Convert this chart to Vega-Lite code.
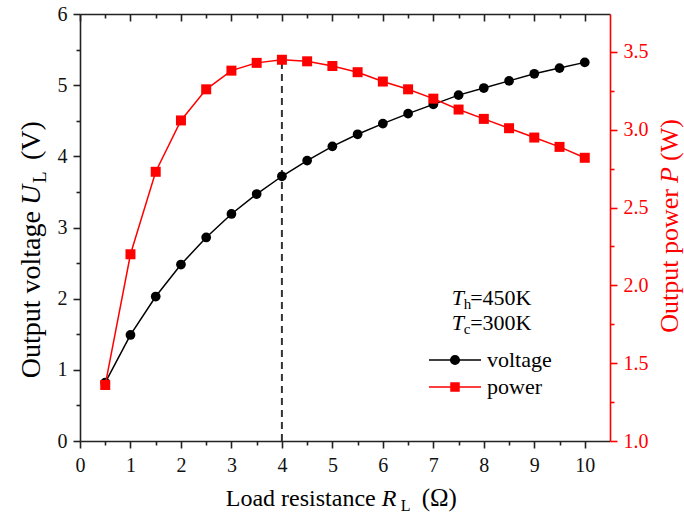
{
  "$schema": "https://vega.github.io/schema/vega-lite/v6.json",
  "width": 530,
  "height": 427,
  "autosize": {"type": "none"},
  "padding": {"left": 80, "top": 14, "right": 74, "bottom": 77},
  "background": "white",
  "config": {
    "font": "Liberation Serif, Times New Roman, serif",
    "view": {"stroke": null},
    "axis": {
      "labelFont": "Liberation Serif, Times New Roman, serif",
      "labelFontSize": 20,
      "labelColor": "#111",
      "domainWidth": 1.6,
      "domainColor": "#222",
      "tickColor": "#222",
      "tickWidth": 1.6,
      "grid": false,
      "title": null,
      "labelOverlap": false,
      "labelFlush": false
    },
    "legend": {"labelFont": "Liberation Serif, Times New Roman, serif"},
    "text": {"font": "Liberation Serif, Times New Roman, serif"}
  },
  "datasets": {
    "main": [
      {"R": 0.5, "U": 0.82, "P": 1.36},
      {"R": 1.0, "U": 1.49, "P": 2.20},
      {"R": 1.5, "U": 2.03, "P": 2.73},
      {"R": 2.0, "U": 2.48, "P": 3.06},
      {"R": 2.5, "U": 2.86, "P": 3.26},
      {"R": 3.0, "U": 3.19, "P": 3.38},
      {"R": 3.5, "U": 3.47, "P": 3.43},
      {"R": 4.0, "U": 3.72, "P": 3.45},
      {"R": 4.5, "U": 3.94, "P": 3.44},
      {"R": 5.0, "U": 4.14, "P": 3.41},
      {"R": 5.5, "U": 4.31, "P": 3.37},
      {"R": 6.0, "U": 4.46, "P": 3.31},
      {"R": 6.5, "U": 4.60, "P": 3.26},
      {"R": 7.0, "U": 4.73, "P": 3.20},
      {"R": 7.5, "U": 4.86, "P": 3.13},
      {"R": 8.0, "U": 4.96, "P": 3.07},
      {"R": 8.5, "U": 5.06, "P": 3.01},
      {"R": 9.0, "U": 5.16, "P": 2.95},
      {"R": 9.5, "U": 5.24, "P": 2.89},
      {"R": 10.0, "U": 5.32, "P": 2.82}
    ]
  },
  "layer": [
    {
      "encoding": {
        "x": {
          "field": "R", "type": "quantitative",
          "scale": {"domain": [0, 10.5], "nice": false, "zero": false},
          "axis": {
            "orient": "bottom",
            "values": [0, 0.5, 1, 1.5, 2, 2.5, 3, 3.5, 4, 4.5, 5, 5.5, 6, 6.5, 7, 7.5, 8, 8.5, 9, 9.5, 10],
            "labelExpr": "datum.value % 1 === 0 ? format(datum.value, 'd') : ''",
            "labelFont": "Liberation Serif, Times New Roman, serif",
            "tickSize": {"condition": {"test": "datum.value % 1 !== 0", "value": 4}, "value": 7},
            "labelPadding": 7
          }
        },
        "y": {
          "field": "U", "type": "quantitative",
          "scale": {"domain": [0, 6], "nice": false, "zero": false},
          "axis": {
            "orient": "left",
            "values": [0, 0.5, 1, 1.5, 2, 2.5, 3, 3.5, 4, 4.5, 5, 5.5, 6],
            "labelExpr": "datum.value % 1 === 0 ? format(datum.value, 'd') : ''",
            "labelFont": "Liberation Serif, Times New Roman, serif",
            "tickSize": {"condition": {"test": "datum.value % 1 !== 0", "value": 4}, "value": 7},
            "labelPadding": 6
          }
        }
      },
      "layer": [
        {
          "data": {"values": [{"R": 4, "U": 0, "U2": 5.353}]},
          "mark": {"type": "rule", "color": "#333", "strokeWidth": 2, "strokeDash": [7, 5]},
          "encoding": {"y2": {"field": "U2"}}
        },
        {
          "data": {"name": "main"},
          "mark": {"type": "line", "strokeWidth": 1.5},
          "encoding": {
            "color": {
              "datum": "voltage",
              "type": "nominal",
              "scale": {"domain": ["voltage", "power"], "range": ["black", "red"]},
              "legend": {
                "orient": "none",
                "legendX": 364,
                "legendY": 335,
                "title": null,
                "labelFont": "Liberation Serif, Times New Roman, serif",
                "labelFontSize": 22,
                "labelColor": "black",
                "labelOffset": 21,
                "rowPadding": 5,
                "symbolSize": 400,
                "symbolStrokeWidth": 1.5,
                "encode": {
                  "symbols": {
                    "update": {
                      "shape": {"signal": "datum.value === 'power' ? 'M-2.6,0H2.6M-0.4,-0.4H0.4V0.4H-0.4Z' : 'M-2.6,0H2.6M-0.43,0A0.43,0.43 0 1,1 0.43,0A0.43,0.43 0 1,1 -0.43,0Z'"},
                      "fill": {"signal": "datum.value === 'power' ? 'red' : 'black'"},
                      "stroke": {"signal": "datum.value === 'power' ? 'red' : 'black'"},
                      "strokeWidth": {"value": 1.5},
                      "opacity": {"value": 1},
                      "fillOpacity": {"value": 1},
                      "strokeOpacity": {"value": 1}
                    }
                  }
                }
              }
            }
          }
        },
        {
          "data": {"name": "main"},
          "mark": {"type": "point", "shape": "circle", "filled": true, "size": 95, "opacity": 1, "color": "black"}
        },
        {
          "data": {"values": [{"R": 7.364, "U": 1.911, "t": "T"}, {"R": 7.364, "U": 1.560, "t": "T"}]},
          "mark": {"type": "text", "fontSize": 22, "fontStyle": "italic", "align": "left", "baseline": "alphabetic", "color": "black"},
          "encoding": {"text": {"field": "t"}}
        },
        {
          "data": {"values": [{"R": 7.364, "U": 1.911, "t": "h"}, {"R": 7.364, "U": 1.560, "t": "c"}]},
          "mark": {"type": "text", "fontSize": 15, "align": "left", "baseline": "alphabetic", "dx": 12, "dy": 4, "color": "black"},
          "encoding": {"text": {"field": "t"}}
        },
        {
          "data": {"values": [{"R": 7.364, "U": 1.911, "t": "=450K"}, {"R": 7.364, "U": 1.560, "t": "=300K"}]},
          "mark": {"type": "text", "fontSize": 22, "align": "left", "baseline": "alphabetic", "dx": 18.5, "color": "black"},
          "encoding": {"text": {"field": "t"}}
        },
        {
          "data": {"values": [{"R": 5.977, "U": -0.913, "t": "Load resistance"}]},
          "mark": {"type": "text", "fontSize": 24, "align": "right", "baseline": "alphabetic", "dx": -6, "color": "black"},
          "encoding": {"text": {"field": "t"}}
        },
        {
          "data": {"values": [{"R": 5.977, "U": -0.913, "t": "R"}]},
          "mark": {"type": "text", "fontSize": 24, "fontStyle": "italic", "align": "left", "baseline": "alphabetic", "color": "black"},
          "encoding": {"text": {"field": "t"}}
        },
        {
          "data": {"values": [{"R": 5.977, "U": -0.913, "t": "L"}]},
          "mark": {"type": "text", "fontSize": 16, "align": "left", "baseline": "alphabetic", "dx": 19, "dy": 5, "color": "black"},
          "encoding": {"text": {"field": "t"}}
        },
        {
          "data": {"values": [{"R": 5.977, "U": -0.913, "t": "(Ω)"}]},
          "mark": {"type": "text", "fontSize": 25, "align": "left", "baseline": "alphabetic", "dx": 40, "color": "black"},
          "encoding": {"text": {"field": "t"}}
        },
        {
          "data": {"values": [{"R": -0.792, "U": 3.316, "t": "Output voltage"}]},
          "mark": {"type": "text", "fontSize": 28, "angle": 270, "align": "right", "baseline": "alphabetic", "dx": -6, "color": "black"},
          "encoding": {"text": {"field": "t"}}
        },
        {
          "data": {"values": [{"R": -0.792, "U": 3.316, "t": "U"}]},
          "mark": {"type": "text", "fontSize": 28, "angle": 270, "fontStyle": "italic", "align": "left", "baseline": "alphabetic", "color": "black"},
          "encoding": {"text": {"field": "t"}}
        },
        {
          "data": {"values": [{"R": -0.792, "U": 3.316, "t": "L"}]},
          "mark": {"type": "text", "fontSize": 19, "angle": 270, "align": "left", "baseline": "alphabetic", "dx": 22, "dy": 6, "color": "black"},
          "encoding": {"text": {"field": "t"}}
        },
        {
          "data": {"values": [{"R": -0.792, "U": 3.316, "t": "(V)"}]},
          "mark": {"type": "text", "fontSize": 28, "angle": 270, "align": "left", "baseline": "alphabetic", "dx": 45, "color": "black"},
          "encoding": {"text": {"field": "t"}}
        }
      ]
    },
    {
      "encoding": {
        "x": {
          "field": "R", "type": "quantitative",
          "scale": {"domain": [0, 10.5], "nice": false, "zero": false},
          "axis": {
            "orient": "top",
            "values": [0, 0.5, 1, 1.5, 2, 2.5, 3, 3.5, 4, 4.5, 5, 5.5, 6, 6.5, 7, 7.5, 8, 8.5, 9, 9.5, 10],
            "labels": false,
            "tickSize": {"condition": {"test": "datum.value % 1 !== 0", "value": -4}, "value": -7}
          }
        },
        "y": {
          "field": "P", "type": "quantitative",
          "scale": {"domain": [1.0, 3.744], "nice": false, "zero": false},
          "axis": {
            "orient": "right",
            "values": [1.0, 1.25, 1.5, 1.75, 2.0, 2.25, 2.5, 2.75, 3.0, 3.25, 3.5],
            "labelExpr": "(datum.value * 2) % 1 === 0 ? format(datum.value, '.1f') : ''",
            "labelFont": "Liberation Serif, Times New Roman, serif",
            "tickSize": {"condition": {"test": "(datum.value * 2) % 1 !== 0", "value": 4}, "value": 7},
            "domainColor": "red",
            "tickColor": "red",
            "labelColor": "red",
            "labelPadding": 6
          }
        }
      },
      "layer": [
        {
          "data": {"name": "main"},
          "mark": {"type": "line", "strokeWidth": 1.5},
          "encoding": {"color": {"datum": "power", "type": "nominal"}}
        },
        {
          "data": {"name": "main"},
          "mark": {"type": "point", "shape": "square", "filled": true, "size": 100, "opacity": 1, "color": "red"}
        },
        {
          "data": {"values": [{"R": 11.847, "P": 2.658, "t": "Output power"}]},
          "mark": {"type": "text", "fontSize": 26, "angle": 270, "align": "right", "baseline": "alphabetic", "dx": -6, "color": "red"},
          "encoding": {"text": {"field": "t"}}
        },
        {
          "data": {"values": [{"R": 11.847, "P": 2.658, "t": "P"}]},
          "mark": {"type": "text", "fontSize": 26, "angle": 270, "fontStyle": "italic", "align": "left", "baseline": "alphabetic", "color": "red"},
          "encoding": {"text": {"field": "t"}}
        },
        {
          "data": {"values": [{"R": 11.847, "P": 2.658, "t": "(W)"}]},
          "mark": {"type": "text", "fontSize": 26, "angle": 270, "align": "left", "baseline": "alphabetic", "dx": 22, "color": "red"},
          "encoding": {"text": {"field": "t"}}
        }
      ]
    }
  ],
  "resolve": {"scale": {"y": "independent"}, "axis": {"x": "independent", "y": "independent"}}
}
